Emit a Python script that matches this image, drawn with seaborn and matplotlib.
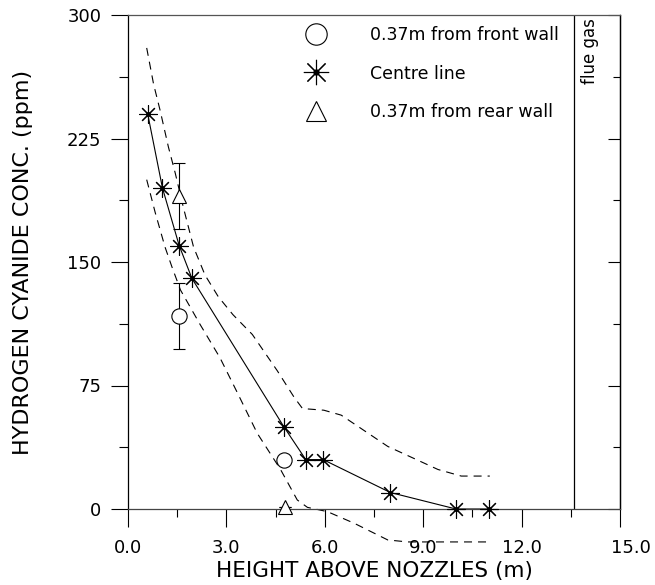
import matplotlib
matplotlib.use("Agg")
import matplotlib.pyplot as plt
import matplotlib.transforms as mtransforms
import seaborn as sns
import pandas as pd
from matplotlib.lines import Line2D
from matplotlib.legend_handler import HandlerTuple
from matplotlib.ticker import FixedLocator, FixedFormatter, MultipleLocator

# ---------------- data ----------------
centre_x = [0.6, 1.05, 1.56, 1.95, 4.75, 5.42, 5.95, 8.0, 10.0, 11.0]
centre_y = [240, 195, 160, 140, 50, 30, 30, 10, 0, 0]

front_x = [1.56, 4.75]
front_y = [117, 30]
front_err = [20, 0]

rear_x = [1.56, 4.78]
rear_y = [190, 1]
rear_err = [20, 0]

upper_x = [0.57, 0.78, 0.98, 1.23, 1.44, 1.69, 2.0, 2.35, 2.75, 3.2, 3.79, 4.55, 5.06, 5.32, 5.97, 6.5, 7.92, 9.45, 10.16, 11.03]
upper_y = [280, 258, 242, 220, 204, 183, 159, 142, 129, 118, 106, 84, 68, 61, 60, 57, 38, 24, 20, 20]

lower_x = [0.57, 0.83, 1.13, 1.34, 1.6, 2.2, 2.8, 3.3, 3.94, 4.65, 5.16, 5.47, 6.08, 6.9, 7.92, 8.53, 9.96, 11.03]
lower_y = [200, 180, 159, 147, 133, 112, 92, 72, 46, 24, 5.5, 1, -1.6, -8.7, -18.8, -20, -20, -20]

flue_x = 13.6

x_ticks = [0.0, 3.0, 6.0, 9.0, 12.0, 15.0]
x_tick_labels = ["0.0", "3.0", "6.0", "9.0", "12.0", "15.0"]
y_ticks = [0, 75, 150, 225, 300]
y_tick_labels = ["0", "75", "150", "225", "300"]

legend_labels = ["0.37m from front wall", "Centre line", "0.37m from rear wall"]

# ---------------- figure ----------------
sns.set_theme(style="white")
plt.rcParams["font.family"] = ["DejaVu Sans"]
plt.rcParams["text.color"] = "black"
plt.rcParams["axes.labelcolor"] = "black"

fig = plt.figure(figsize=(6.55, 5.85), dpi=100)
ax = fig.add_axes([128 / 655, 76 / 585, 492 / 655, 494 / 585])

ASTER = (8, 2, 0)
dash = (0, (7.2, 5.4))
lw = 0.8

df_c = pd.DataFrame({"x": centre_x, "y": centre_y})
df_u = pd.DataFrame({"x": upper_x, "y": upper_y})
df_l = pd.DataFrame({"x": lower_x, "y": lower_y})

sns.lineplot(data=df_c, x="x", y="y", ax=ax, color="black", lw=lw, sort=False, estimator=None)
sns.lineplot(data=df_u, x="x", y="y", ax=ax, color="black", lw=lw, sort=False, estimator=None,
             linestyle=dash)
sns.lineplot(data=df_l, x="x", y="y", ax=ax, color="black", lw=lw, sort=False, estimator=None,
             linestyle=dash)
for ln in ax.lines:
    ln.set_clip_on(False)

# markers
ax.plot(centre_x, centre_y, linestyle="none", marker=ASTER, ms=13, mew=0.8, color="black",
        clip_on=False, zorder=5)
ax.plot(centre_x, centre_y, linestyle="none", marker="o", ms=2.5, color="black",
        clip_on=False, zorder=5)

for xs, ys, es, mk, ms in [(front_x, front_y, front_err, "o", 11), (rear_x, rear_y, rear_err, "^", 10)]:
    cont = ax.errorbar(xs, ys, yerr=es, fmt=mk, ms=ms, mfc="white", mec="black",
                       mew=0.8, ecolor="black", elinewidth=0.8, capsize=4.3, capthick=0.8, zorder=4)
    for art in cont.get_children():
        art.set_clip_on(False)

# flue gas divider
ax.axvline(flue_x, color="black", lw=0.9)
ax.text(14.08, 298, "flue gas", rotation=90, ha="center", va="top", fontsize=12, color="black")

# axes limits / ticks
ax.set_xlim(0, 15)
ax.set_ylim(0, 300)
ax.xaxis.set_major_locator(FixedLocator(x_ticks))
ax.xaxis.set_major_formatter(FixedFormatter(x_tick_labels))
ax.xaxis.set_minor_locator(MultipleLocator(1.5))
ax.yaxis.set_major_locator(FixedLocator(y_ticks))
ax.yaxis.set_major_formatter(FixedFormatter(y_tick_labels))
ax.yaxis.set_minor_locator(MultipleLocator(37.5))

ax.tick_params(axis="both", which="both", direction="out", color="black", width=0.8,
               labelsize=13, labelcolor="black")
ax.tick_params(axis="x", which="major", length=12.7, pad=9)
ax.tick_params(axis="x", which="minor", length=5.8)
ax.tick_params(axis="y", which="major", length=12.2, pad=7)
ax.tick_params(axis="y", which="minor", length=6.5)
ax.tick_params(bottom=True, left=True, which="both")

sec = ax.secondary_yaxis("right")
sec.yaxis.set_major_locator(FixedLocator(y_ticks))
sec.yaxis.set_minor_locator(MultipleLocator(37.5))
sec.tick_params(which="both", direction="in", labelright=False, color="black", width=0.8)
sec.tick_params(which="major", length=9)
sec.tick_params(which="minor", length=5)
sec.spines["right"].set_color("black")
sec.spines["right"].set_linewidth(0.9)

for side in ["left", "bottom", "top", "right"]:
    ax.spines[side].set_visible(True)
    ax.spines[side].set_linewidth(0.9)
ax.spines["left"].set_color("black")
ax.spines["bottom"].set_color("#444444")
ax.spines["top"].set_color("#555555")
ax.spines["right"].set_color("black")

fig.canvas.draw()
lbl_last = ax.get_xticklabels()[-1]
lbl_last.set_transform(lbl_last.get_transform() +
                       mtransforms.ScaledTranslation(8 / 72, 0, fig.dpi_scale_trans))

ax.set_xlabel("HEIGHT ABOVE NOZZLES (m)", fontsize=15.5, color="black", labelpad=3)
ax.set_ylabel("HYDROGEN CYANIDE CONC. (ppm)", fontsize=16, color="black", labelpad=24)

# legend
h_front = Line2D([], [], linestyle="none", marker="o", ms=11, mfc="white", mec="black", mew=0.8)
h_star = Line2D([], [], linestyle="none", marker=ASTER, ms=13, mew=0.8, color="black")
h_dot = Line2D([], [], linestyle="none", marker="o", ms=2.5, color="black")
h_rear = Line2D([], [], linestyle="none", marker="^", ms=10, mfc="white", mec="black", mew=0.8)
leg = ax.legend([h_front, (h_star, h_dot), h_rear], legend_labels,
                handler_map={tuple: HandlerTuple(ndivide=1, pad=0)},
                loc="upper left", bbox_to_anchor=(0.33, 1.003), frameon=False,
                fontsize=12.5, markerscale=1.4, handlelength=1.5, handletextpad=2.4,
                labelspacing=1.2, borderaxespad=0.3, labelcolor="black")

fig.savefig("out.png", dpi=100)
